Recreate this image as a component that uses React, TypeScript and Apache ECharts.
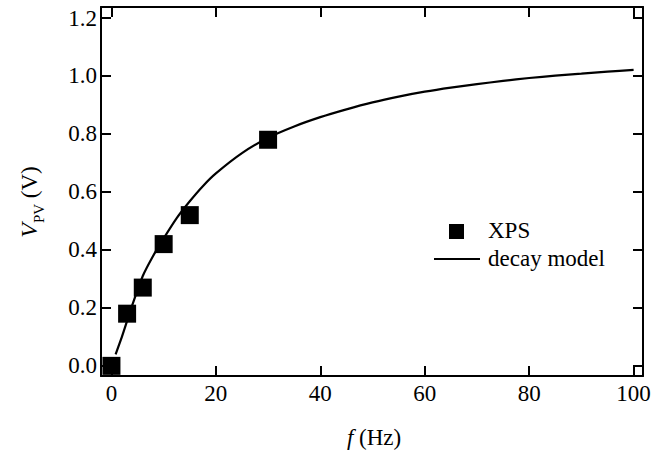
import React, { useEffect, useRef } from "react";
import * as echarts from "echarts";

const xpsFreq = [0, 3, 6, 10, 15, 30];
const xpsVoltage = [0.0, 0.18, 0.27, 0.42, 0.52, 0.78];

const modelFreq = [0.8, 2, 3, 4, 6, 8, 10, 12.5, 15, 17.5, 20, 25, 30, 35, 40, 45, 50, 55, 60, 65, 70, 75, 80, 85, 90, 95, 100];
const modelVoltage = [0.04, 0.1, 0.155, 0.21, 0.31, 0.38, 0.44, 0.51, 0.568, 0.62, 0.664, 0.734, 0.787, 0.826, 0.858, 0.885, 0.909, 0.929, 0.946, 0.96, 0.972, 0.983, 0.993, 1.001, 1.008, 1.015, 1.021];

const FONT = "'Liberation Serif', 'Times New Roman', serif";
const FS = 23;

const isMult = (v: number, step: number) => Math.abs(v / step - Math.round(v / step)) < 1e-6;

export default function App() {
  const ref = useRef<HTMLDivElement>(null);
  useEffect(() => {
    if (!ref.current) return;
    const chart = echarts.init(ref.current, undefined, { renderer: "svg" });
    const axisLine = { show: true, onZero: false, lineStyle: { color: "#000", width: 2 } };
    const axisTick = { show: true, inside: true, length: 10, lineStyle: { color: "#000", width: 2 } };
    const xBase = { type: "value" as const, min: -2, max: 101.8, splitNumber: 5, splitLine: { show: false } };
    const yBase = { type: "value" as const, min: -0.035, max: 1.238, splitNumber: 6, splitLine: { show: false } };
    chart.setOption({
      animation: false,
      backgroundColor: "#fff",
      grid: { left: 101, right: 29, top: 7, bottom: 75, containLabel: false },
      xAxis: [
        {
          ...xBase,
          position: "bottom",
          axisLine,
          axisTick,
          axisLabel: {
            color: "#000",
            fontFamily: FONT,
            fontSize: FS,
            margin: 6,
            formatter: (v: number) => (isMult(v, 20) ? String(Math.round(v)) : ""),
          },
        },
        {
          ...xBase,
          position: "top",
          axisLine,
          axisTick,
          axisLabel: { show: false },
        },
      ],
      yAxis: [
        {
          ...yBase,
          position: "left",
          axisLine,
          axisTick,
          axisLabel: {
            color: "#000",
            fontFamily: FONT,
            fontSize: FS,
            margin: 4,
            formatter: (v: number) => (isMult(v, 0.2) ? v.toFixed(1) : ""),
          },
        },
        {
          ...yBase,
          position: "right",
          axisLine,
          axisTick,
          axisLabel: { show: false },
        },
      ],
      series: [
        {
          type: "line",
          name: "decay model",
          data: modelFreq.map((f, i) => [f, modelVoltage[i]]),
          smooth: 0.25,
          showSymbol: false,
          lineStyle: { color: "#000", width: 2.2 },
          z: 2,
        },
        {
          type: "scatter",
          name: "XPS",
          data: xpsFreq.map((f, i) => [f, xpsVoltage[i]]),
          symbol: "rect",
          symbolSize: 18,
          itemStyle: { color: "#000", opacity: 1 },
          z: 3,
        },
      ],
      graphic: [
        { type: "rect", shape: { x: 449, y: 224, width: 15, height: 15 }, style: { fill: "#000" } },
        { type: "line", shape: { x1: 434, y1: 259, x2: 480, y2: 259 }, style: { stroke: "#000", lineWidth: 2.2 } },
        {
          type: "text",
          x: 488,
          y: 230,
          style: { text: "XPS", fill: "#000", font: `${FS}px ${FONT}`, textVerticalAlign: "middle" },
        },
        {
          type: "text",
          x: 488,
          y: 258,
          style: { text: "decay model", fill: "#000", font: `${FS}px ${FONT}`, textVerticalAlign: "middle" },
        },
        {
          type: "text",
          x: 374,
          y: 437,
          style: {
            text: "{i|f} (Hz)",
            fill: "#000",
            font: `${FS}px ${FONT}`,
            textAlign: "center",
            textVerticalAlign: "middle",
            rich: { i: { fontStyle: "italic", fontFamily: FONT, fontSize: FS, fill: "#000" } },
          },
        },
        {
          type: "text",
          x: 29,
          y: 202,
          rotation: Math.PI / 2,
          style: {
            text: "{v|V}{s|PV} (V)",
            fill: "#000",
            font: `${FS}px ${FONT}`,
            textAlign: "center",
            textVerticalAlign: "middle",
            rich: {
              v: { fontStyle: "italic", fontFamily: FONT, fontSize: 24, fill: "#000", verticalAlign: "bottom" },
              s: { fontFamily: FONT, fontSize: 15, fill: "#000", verticalAlign: "bottom", padding: [0, 0, -5, 0] },
            },
          },
        },
      ],
    });
    return () => chart.dispose();
  }, []);
  return <div ref={ref} style={{ width: 672, height: 451, position: "absolute", left: 0, top: 0 }} />;
}
